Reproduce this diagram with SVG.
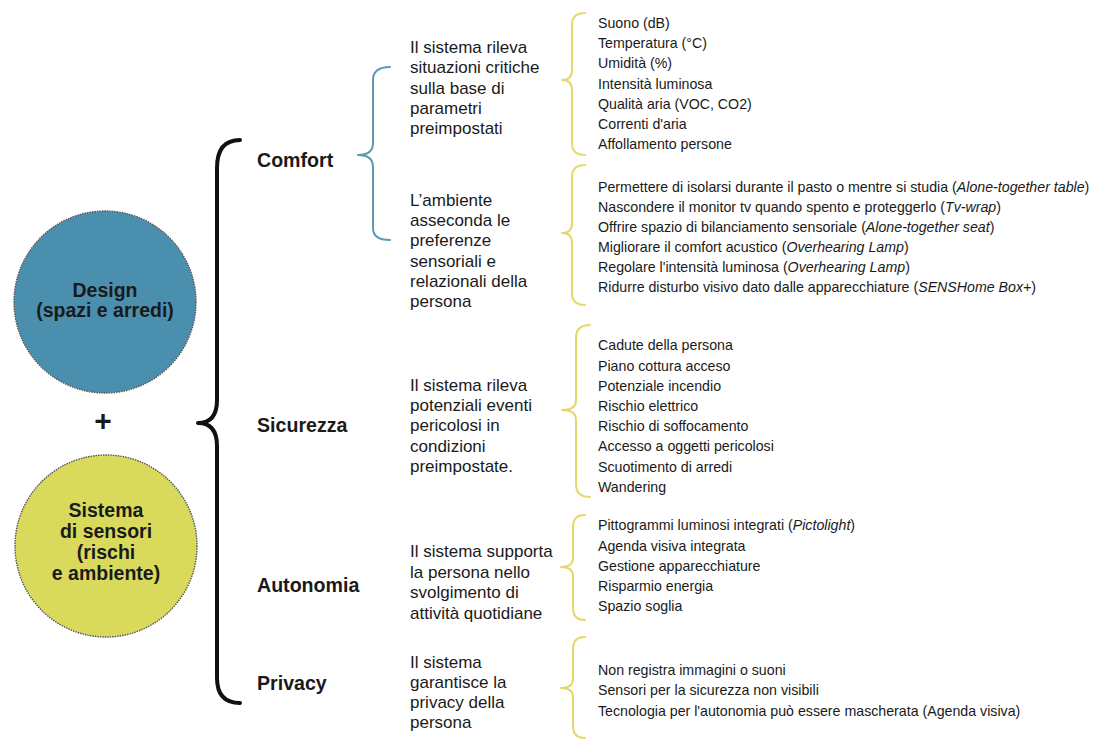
<svg xmlns="http://www.w3.org/2000/svg" width="1095" height="740" viewBox="0 0 1095 740">
<style>
text{font-family:"Liberation Sans",Arial,sans-serif;fill:#1a1a1a}
.circ{font-size:19.5px;font-weight:bold;text-anchor:middle}
.cat{font-size:19.6px;font-weight:bold}
.desc{font-size:17px}
.item{font-size:14.2px}
.it{font-style:italic}
.brace{fill:none;stroke-linecap:round;stroke-linejoin:round}
.bk{stroke:#111;stroke-width:4}
.tl{stroke:#5e9ab0;stroke-width:2}
.yl{stroke:#e5d86a;stroke-width:2}
.dot{stroke:#555;stroke-width:1.4;stroke-dasharray:1.5 1}
</style>
<rect width="1095" height="740" fill="#ffffff"/>
<g id="node-design">
<circle cx="105" cy="302" r="91" fill="#4a8fad" class="dot"/>
<text class="circ" x="105" y="297">Design</text>
<text class="circ" x="105" y="317">(spazi e arredi)</text>
</g>
<g id="node-plus">
<text x="103" y="431" style="font-size:30px;font-weight:bold;text-anchor:middle">+</text>
</g>
<g id="node-sensori">
<circle cx="106" cy="546" r="91" fill="#d9da5c" class="dot"/>
<text class="circ" x="106" y="517">Sistema</text>
<text class="circ" x="106" y="538">di sensori</text>
<text class="circ" x="106" y="559">(rischi</text>
<text class="circ" x="106" y="580">e ambiente)</text>
</g>
<g id="connectors">
<path class="brace bk" d="M240,140 Q217,140 217,168 L217,400 Q217,423 198,423 Q217,423 217,446 L217,678 Q217,703 240,703"/>
<path class="brace tl" d="M390,67 Q373,67 373,80 L373,143 Q373,155 358,155 Q373,155 373,167 L373,228 Q373,240 390,240"/>
<path class="brace yl" d="M585,13 Q572,13 572,25 L572,70 Q572,80 562,80 Q572,80 572,90 L572,143 Q572,155 585,155"/>
<path class="brace yl" d="M585,165 Q572,165 572,177 L572,223 Q572,233 562,233 Q572,233 572,243 L572,293 Q572,305 585,305"/>
<path class="brace yl" d="M590,325 Q576,325 576,338 L576,400 Q576,410 562,410 Q576,410 576,420 L576,484 Q576,497 590,497"/>
<path class="brace yl" d="M585,515 Q573,515 573,527 L573,558 Q573,567 561,567 Q573,567 573,576 L573,608 Q573,620 585,620"/>
<path class="brace yl" d="M585,637 Q573,637 573,649 L573,679 Q573,688 561,688 Q573,688 573,697 L573,726 Q573,738 585,738"/>
</g>
<g id="node-comfort">
<text class="cat" x="257" y="167">Comfort</text>
<text class="desc"><tspan x="410" y="53">Il sistema rileva</tspan><tspan x="410" y="73">situazioni critiche</tspan><tspan x="410" y="94">sulla base di</tspan><tspan x="410" y="114">parametri</tspan><tspan x="410" y="134">preimpostati</tspan></text>
<text class="item"><tspan x="598" y="28">Suono (dB)</tspan><tspan x="598" y="48">Temperatura (°C)</tspan><tspan x="598" y="68">Umidità (%)</tspan><tspan x="598" y="89">Intensità luminosa</tspan><tspan x="598" y="109">Qualità aria (VOC, CO2)</tspan><tspan x="598" y="129">Correnti d'aria</tspan><tspan x="598" y="149">Affollamento persone</tspan></text>
<text class="desc"><tspan x="410" y="206">L’ambiente</tspan><tspan x="410" y="226">asseconda le</tspan><tspan x="410" y="246">preferenze</tspan><tspan x="410" y="267">sensoriali e</tspan><tspan x="410" y="287">relazionali della</tspan><tspan x="410" y="307">persona</tspan></text>
<text class="item" x="598" y="192">Permettere di isolarsi durante il pasto o mentre si studia (<tspan class="it">Alone-together table</tspan>)</text>
<text class="item" x="598" y="212">Nascondere il monitor tv quando spento e proteggerlo (<tspan class="it">Tv-wrap</tspan>)</text>
<text class="item" x="598" y="232">Offrire spazio di bilanciamento sensoriale (<tspan class="it">Alone-together seat</tspan>)</text>
<text class="item" x="598" y="252">Migliorare il comfort acustico (<tspan class="it">Overhearing Lamp</tspan>)</text>
<text class="item" x="598" y="272">Regolare l'intensità luminosa (<tspan class="it">Overhearing Lamp</tspan>)</text>
<text class="item" x="598" y="292">Ridurre disturbo visivo dato dalle apparecchiature (<tspan class="it">SENSHome Box+</tspan>)</text>
</g>
<g id="node-sicurezza">
<text class="cat" x="257" y="432">Sicurezza</text>
<text class="desc"><tspan x="410" y="391">Il sistema rileva</tspan><tspan x="410" y="411">potenziali eventi</tspan><tspan x="410" y="431">pericolosi in</tspan><tspan x="410" y="452">condizioni</tspan><tspan x="410" y="472">preimpostate.</tspan></text>
<text class="item"><tspan x="598" y="350">Cadute della persona</tspan><tspan x="598" y="371">Piano cottura acceso</tspan><tspan x="598" y="391">Potenziale incendio</tspan><tspan x="598" y="411">Rischio elettrico</tspan><tspan x="598" y="431">Rischio di soffocamento</tspan><tspan x="598" y="451">Accesso a oggetti pericolosi</tspan><tspan x="598" y="472">Scuotimento di arredi</tspan><tspan x="598" y="492">Wandering</tspan></text>
</g>
<g id="node-autonomia">
<text class="cat" x="257" y="592">Autonomia</text>
<text class="desc"><tspan x="410" y="557">Il sistema supporta</tspan><tspan x="410" y="578">la persona nello</tspan><tspan x="410" y="598">svolgimento di</tspan><tspan x="410" y="619">attività quotidiane</tspan></text>
<text class="item" x="598" y="530">Pittogrammi luminosi integrati (<tspan class="it">Pictolight</tspan>)</text>
<text class="item"><tspan x="598" y="551">Agenda visiva integrata</tspan><tspan x="598" y="571">Gestione apparecchiature</tspan><tspan x="598" y="591">Risparmio energia</tspan><tspan x="598" y="611">Spazio soglia</tspan></text>
</g>
<g id="node-privacy">
<text class="cat" x="257" y="690">Privacy</text>
<text class="desc"><tspan x="410" y="668">Il sistema</tspan><tspan x="410" y="688">garantisce la</tspan><tspan x="410" y="708">privacy della</tspan><tspan x="410" y="728">persona</tspan></text>
<text class="item"><tspan x="598" y="675">Non registra immagini o suoni</tspan><tspan x="598" y="695">Sensori per la sicurezza non visibili</tspan><tspan x="598" y="716">Tecnologia per l'autonomia può essere mascherata (Agenda visiva)</tspan></text>
</g>
</svg>
